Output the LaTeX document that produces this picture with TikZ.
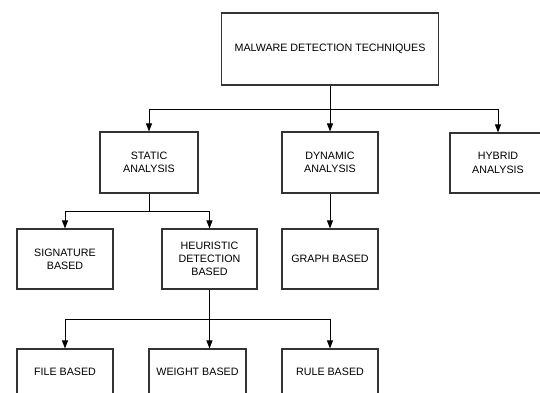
\documentclass[tikz,border=0pt]{standalone}
\usepackage{fontspec}
\setmainfont{Liberation Sans}
\usetikzlibrary{arrows.meta,positioning,calc}
\definecolor{boxline}{HTML}{333333}

\begin{document}
\begin{tikzpicture}[x=1pt,y=-1pt,every node/.style={font=\fontsize{10.7}{13.3}\selectfont,align=center},
  box/.style={draw=boxline,line width=1.1pt,minimum width=96pt,minimum height=60pt,inner sep=2pt},
  arr/.style={-{Triangle[length=8pt,width=6pt]},line width=0.9pt}]
\useasboundingbox (0,0) rectangle (540,392);
\node[box,minimum width=217pt,minimum height=72pt] (mdt) at (330,49) {MALWARE DETECTION TECHNIQUES};
\node[box,minimum width=98pt,minimum height=61pt] (static) at (149,162.5) {STATIC\\ANALYSIS};
\node[box,minimum height=61pt] (dynamic) at (330,162.5) {DYNAMIC\\ANALYSIS};
\node[box] (hybrid) at (498,163) {HYBRID\\ANALYSIS};
\node[box] (sig) at (65,259) {SIGNATURE\\BASED};
\node[box,minimum width=95pt] (heur) at (209.5,259) {HEURISTIC\\DETECTION\\BASED};
\node[box] (graph) at (330,259) {GRAPH BASED};
\node[box,minimum height=46pt] (file) at (65,372) {FILE BASED};
\node[box,minimum width=97pt,minimum height=46pt] (weight) at (197.5,372) {WEIGHT BASED};
\node[box,minimum height=46pt] (rule) at (330,372) {RULE BASED};
\coordinate (bus1) at (330,109.5);
\coordinate (bus2) at (149,211);
\coordinate (bus3) at (209.5,319);
\draw[line width=0.9pt] (mdt) -- (bus1);
\draw[arr] (bus1) -| (static);
\draw[arr] (bus1) -- (dynamic);
\draw[arr] (bus1) -| (hybrid);
\draw[line width=0.9pt] (static) -- (bus2);
\draw[arr] (bus2) -| (sig);
\draw[arr] (bus2) -| (heur);
\draw[arr] (dynamic) -- (graph);
\draw[line width=0.9pt] (heur) -- (bus3);
\draw[arr] (bus3) -| (file);
\draw[arr] (bus3) -- (bus3 |- weight.north);
\draw[arr] (bus3) -| (rule);
\end{tikzpicture}
\end{document}
